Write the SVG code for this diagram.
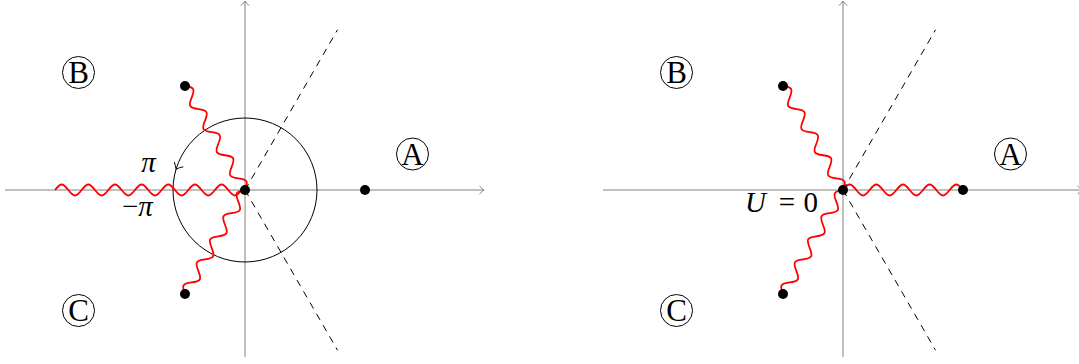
<svg xmlns="http://www.w3.org/2000/svg" xmlns:xlink="http://www.w3.org/1999/xlink" width="1079" height="364" viewBox="0 0 1079 364">
<style>
.axis{stroke:#808080;stroke-width:1;fill:none}
.dash{stroke:#000;stroke-width:1;fill:none;stroke-dasharray:7 6}
.wave{stroke:#ff0000;stroke-width:1.8;fill:none;stroke-linejoin:round}
.dot{fill:#000}
.ring{stroke:#000;stroke-width:1;fill:none}
text{font-family:"Liberation Serif","Times New Roman",serif;font-size:29px;fill:#000}
.lt{font-size:31px}
.it{font-style:italic}
</style>
<defs>
<marker id="ah" markerWidth="10" markerHeight="10" refX="0" refY="0" viewBox="-6 -5 8 10" orient="auto" markerUnits="userSpaceOnUse">
<path d="M-4.5,-4 Q-1.5,-1 0,0 Q-1.5,1 -4.5,4" stroke="#808080" stroke-width="1" fill="none"/>
</marker>
<path id="w120" d="M0,0 c5.66,-7.33 7.67,-7.33 13.33,0 c5.66,7.33 7.67,7.33 13.33,0 c5.66,-7.33 7.67,-7.33 13.33,0 c5.66,7.33 7.67,7.33 13.33,0 c5.66,-7.33 7.67,-7.33 13.33,0 c5.66,7.33 7.67,7.33 13.33,0 c5.66,-7.33 7.67,-7.33 13.33,0 c5.66,7.33 7.67,7.33 13.33,0 c5.66,-7.33 7.67,-7.33 13.33,0"/>
</defs>
<g id="connectors">
<line class="axis" x1="5" y1="190" x2="484" y2="190" marker-end="url(#ah)"/>
<line class="axis" x1="245" y1="357" x2="245" y2="1" marker-end="url(#ah)"/>
<line class="dash" x1="245" y1="190" x2="337.5" y2="29.8"/>
<line class="dash" x1="245" y1="190" x2="337.5" y2="350.2"/>
<circle class="ring" cx="245" cy="190" r="72"/>
<path class="ring" d="M174.3,162 Q175.5,166 176.2,169.3 Q179.5,167.2 183.3,166.8"/>
<path class="wave" d="M55,190 c5.66,-7.33 7.67,-7.33 13.33,0 c5.66,7.33 7.67,7.33 13.33,0 c5.66,-7.33 7.67,-7.33 13.33,0 c5.66,7.33 7.67,7.33 13.33,0 c5.66,-7.33 7.67,-7.33 13.33,0 c5.66,7.33 7.67,7.33 13.33,0 c5.66,-7.33 7.67,-7.33 13.33,0 c5.66,7.33 7.67,7.33 13.33,0 c5.66,-7.33 7.67,-7.33 13.33,0 c5.66,7.33 7.67,7.33 13.33,0 c5.66,-7.33 7.67,-7.33 13.33,0 c5.66,7.33 7.67,7.33 13.33,0 c5.66,-7.33 7.67,-7.33 13.33,0 c5.66,7.33 7.67,7.33 13.33,0 L245,190"/>
<use class="wave" xlink:href="#w120" href="#w120" transform="translate(185,86) rotate(60)"/>
<use class="wave" xlink:href="#w120" href="#w120" transform="translate(185,294) rotate(-60)"/>
<line class="axis" x1="603" y1="190" x2="1082" y2="190" marker-end="url(#ah)"/>
<line class="axis" x1="843" y1="357" x2="843" y2="1" marker-end="url(#ah)"/>
<line class="dash" x1="843" y1="190" x2="935.5" y2="29.8"/>
<line class="dash" x1="843" y1="190" x2="935.5" y2="350.2"/>
<use class="wave" xlink:href="#w120" href="#w120" transform="translate(783,86) rotate(60)"/>
<use class="wave" xlink:href="#w120" href="#w120" transform="translate(783,294) rotate(-60)"/>
<use class="wave" xlink:href="#w120" href="#w120" transform="translate(843,190)"/>
</g>
<g id="node-left-origin"><circle class="dot" cx="245" cy="190" r="5"/></g>
<g id="node-left-a-point"><circle class="dot" cx="365" cy="190" r="5"/></g>
<g id="node-left-b-point"><circle class="dot" cx="185" cy="86" r="5"/></g>
<g id="node-left-c-point"><circle class="dot" cx="185" cy="294" r="5"/></g>
<g id="node-right-origin"><circle class="dot" cx="843" cy="190" r="5"/></g>
<g id="node-right-a-point"><circle class="dot" cx="963" cy="190" r="5"/></g>
<g id="node-right-b-point"><circle class="dot" cx="783" cy="86" r="5"/></g>
<g id="node-right-c-point"><circle class="dot" cx="783" cy="294" r="5"/></g>
<g id="label-left-A"><circle class="ring" cx="412.5" cy="154" r="16"/><text class="lt" x="412.5" y="164.5" text-anchor="middle">A</text></g>
<g id="label-left-B"><circle class="ring" cx="78.5" cy="72.5" r="16"/><text class="lt" x="78.5" y="83" text-anchor="middle">B</text></g>
<g id="label-left-C"><circle class="ring" cx="78.5" cy="310.5" r="16"/><text class="lt" x="78.5" y="321" text-anchor="middle">C</text></g>
<g id="label-right-A"><circle class="ring" cx="1010.5" cy="154" r="16"/><text class="lt" x="1010.5" y="164.5" text-anchor="middle">A</text></g>
<g id="label-right-B"><circle class="ring" cx="676.5" cy="72.5" r="16"/><text class="lt" x="676.5" y="83" text-anchor="middle">B</text></g>
<g id="label-right-C"><circle class="ring" cx="676.5" cy="310.5" r="16"/><text class="lt" x="676.5" y="321" text-anchor="middle">C</text></g>
<g id="label-pi"><text class="it" x="148.5" y="171.5" text-anchor="middle">π</text></g>
<g id="label-minus-pi"><text x="122" y="215.5">−<tspan class="it">π</tspan></text></g>
<g id="label-U0"><text class="it" x="745" y="211.5">U</text><text x="787" y="211.5" text-anchor="middle">=</text><text x="818" y="211.5" text-anchor="end">0</text></g>
</svg>
